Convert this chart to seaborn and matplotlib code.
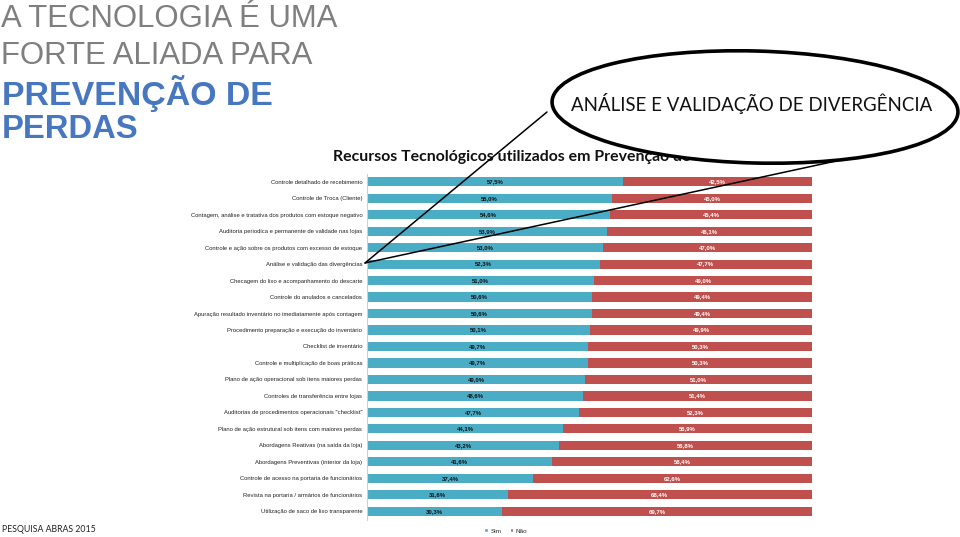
import matplotlib
matplotlib.use("Agg")
import matplotlib.pyplot as plt
import seaborn as sns
import pandas as pd
from matplotlib.patches import Ellipse, Patch
from matplotlib import font_manager

categories = [
    "Controle detalhado de recebimento",
    "Controle de Troca (Cliente)",
    "Contagem, análise e tratativa dos produtos com estoque negativo",
    "Auditoria periodica e permanente de validade nas lojas",
    "Controle e ação sobre os produtos com excesso de estoque",
    "Análise e validação das divergências",
    "Checagem do lixo e acompanhamento do descarte",
    "Controle do anulados e cancelados",
    "Apuração resultado inventário no imediatamente após contagem",
    "Procedimento preparação e execução do inventário",
    "Checklist de inventário",
    "Controle e multiplicação de boas práticas",
    "Plano de ação operacional sob itens maiores perdas",
    "Controles de transferência entre lojas",
    "Auditorias de procedimentos operacionais \"checklist\"",
    "Plano de ação estrutural sob itens com maiores perdas",
    "Abordagens Reativas (na saída da loja)",
    "Abordagens Preventivas (interior da loja)",
    "Controle de acesso na portaria de funcionários",
    "Revista na portaria / armários de funcionários",
    "Utilização de saco de lixo transparente",
]
sim = [57.5, 55.0, 54.6, 53.9, 53.0, 52.3, 51.0, 50.6, 50.6, 50.1, 49.7,
       49.7, 49.0, 48.6, 47.7, 44.1, 43.2, 41.6, 37.4, 31.6, 30.3]
nao = [42.5, 45.0, 45.4, 46.1, 47.0, 47.7, 49.0, 49.4, 49.4, 49.9, 50.3,
       50.3, 51.0, 51.4, 52.3, 55.9, 56.8, 58.4, 62.6, 68.4, 69.7]
series_names = ["Sim", "Não"]

BLUE = "#4BACC6"
RED = "#C0504D"

sns.set_theme(style="white")
available = {f.name for f in font_manager.fontManager.ttflist}
narrow = "Liberation Sans Narrow" if "Liberation Sans Narrow" in available else "Liberation Sans"
plt.rcParams["font.family"] = ["Liberation Sans", "DejaVu Sans"]

df = pd.DataFrame({"cat": categories, "Sim": sim, "Não": nao})
df["total"] = df["Sim"] + df["Não"]

fig = plt.figure(figsize=(9.6, 5.37), dpi=100)
W, H = 960, 537

# chart axes (pixel positions)
x0, x1 = 367, 812
ytop, ybot = 173.5, 519.5
ax = fig.add_axes([x0 / W, 1 - ybot / H, (x1 - x0) / W, (ybot - ytop) / H])

sns.barplot(data=df, x="total", y="cat", color=RED, orient="h", width=0.56,
            saturation=1, ax=ax, edgecolor="none")
sns.barplot(data=df, x="Sim", y="cat", color=BLUE, orient="h", width=0.56,
            saturation=1, ax=ax, edgecolor="none")
ax.set_xlim(0, 100)
ax.set_ylim(len(categories) - 0.5, -0.5)
ax.set_xlabel("")
ax.set_ylabel("")
ax.set_xticks([])
label_fs = 4.6 if narrow != "Liberation Sans" else 4.2
ax.tick_params(axis="y", length=0, pad=3.5, labelsize=label_fs, labelcolor="#222222")
for lbl in ax.get_yticklabels():
    lbl.set_fontfamily(narrow)
for s in ["top", "right", "bottom"]:
    ax.spines[s].set_visible(False)
ax.spines["left"].set_color("#d0d0d0")
ax.spines["left"].set_linewidth(0.8)

for i, (s, n) in enumerate(zip(sim, nao)):
    ax.text(s / 2, i, f"{s:.1f}%".replace(".", ","), ha="center", va="center",
            fontsize=4.3, fontweight="bold", color="#111111", family=narrow)
    ax.text(s + n / 2, i, f"{n:.1f}%".replace(".", ","), ha="center", va="center",
            fontsize=4.3, fontweight="bold", color="white", family=narrow)

handles = [Patch(facecolor=BLUE, label=series_names[0]),
           Patch(facecolor=RED, label=series_names[1])]
fig.legend(handles=handles, loc="center", bbox_to_anchor=(506 / W, 1 - 531 / H),
           ncol=2, frameon=False, fontsize=4.6, handlelength=0.6, handleheight=0.6,
           handletextpad=0.4, columnspacing=1.2)

# overlay axes in pixel coordinates
ov = fig.add_axes([0, 0, 1, 1], zorder=5)
ov.set_xlim(0, W)
ov.set_ylim(H, 0)
ov.axis("off")
ov.patch.set_alpha(0)

renderer = fig.canvas.get_renderer()

def fit_text(x, y, s, target_w, **kw):
    t = ov.text(x, y, s, **kw)
    fs = t.get_fontsize()
    for _ in range(3):
        w = t.get_window_extent(renderer=renderer).width
        fs = fs * target_w / w
        t.set_fontsize(fs)
    return t

fit_text(1, 19, "A TECNOLOGIA É UMA", 336, fontsize=22, color="#7F7F7F",
         ha="left", va="center")
fit_text(1, 56, "FORTE ALIADA PARA", 312, fontsize=22, color="#7F7F7F",
         ha="left", va="center")
fit_text(2, 93, "PREVENÇÃO DE", 271, fontsize=22, color="#4677BF",
         fontweight="bold", ha="left", va="center")
fit_text(2, 129, "PERDAS", 136, fontsize=22, color="#4677BF",
         fontweight="bold", ha="left", va="center")

ov.text(2, 530, "PESQUISA ABRAS 2015", fontsize=6.3, color="#222222",
        family=["Lato", "DejaVu Sans"], ha="left", va="center")

fit_text(333, 157, "Recursos Tecnológicos utilizados em Prevenção de Perdas",
         410, fontsize=11, fontweight="bold", color="#111111",
         family=["Lato", "DejaVu Sans"], ha="left", va="center", zorder=1)

# callout lines
apex = (365, 263)
ov.plot([apex[0], 547], [apex[1], 112], color="black", lw=1.1, zorder=2)
ov.plot([apex[0], 910], [apex[1], 145], color="black", lw=1.1, zorder=2)

ell = Ellipse((755, 107), 406, 112, angle=1.5, facecolor="white",
              edgecolor="black", lw=2.6, zorder=3)
ov.add_patch(ell)
fit_text(752, 103, "ANÁLISE E VALIDAÇÃO DE DIVERGÊNCIA", 362, fontsize=14,
         color="#111111", family=["Lato", "DejaVu Sans"], ha="center",
         va="center", zorder=4)

fig.savefig("out.png", dpi=100)
